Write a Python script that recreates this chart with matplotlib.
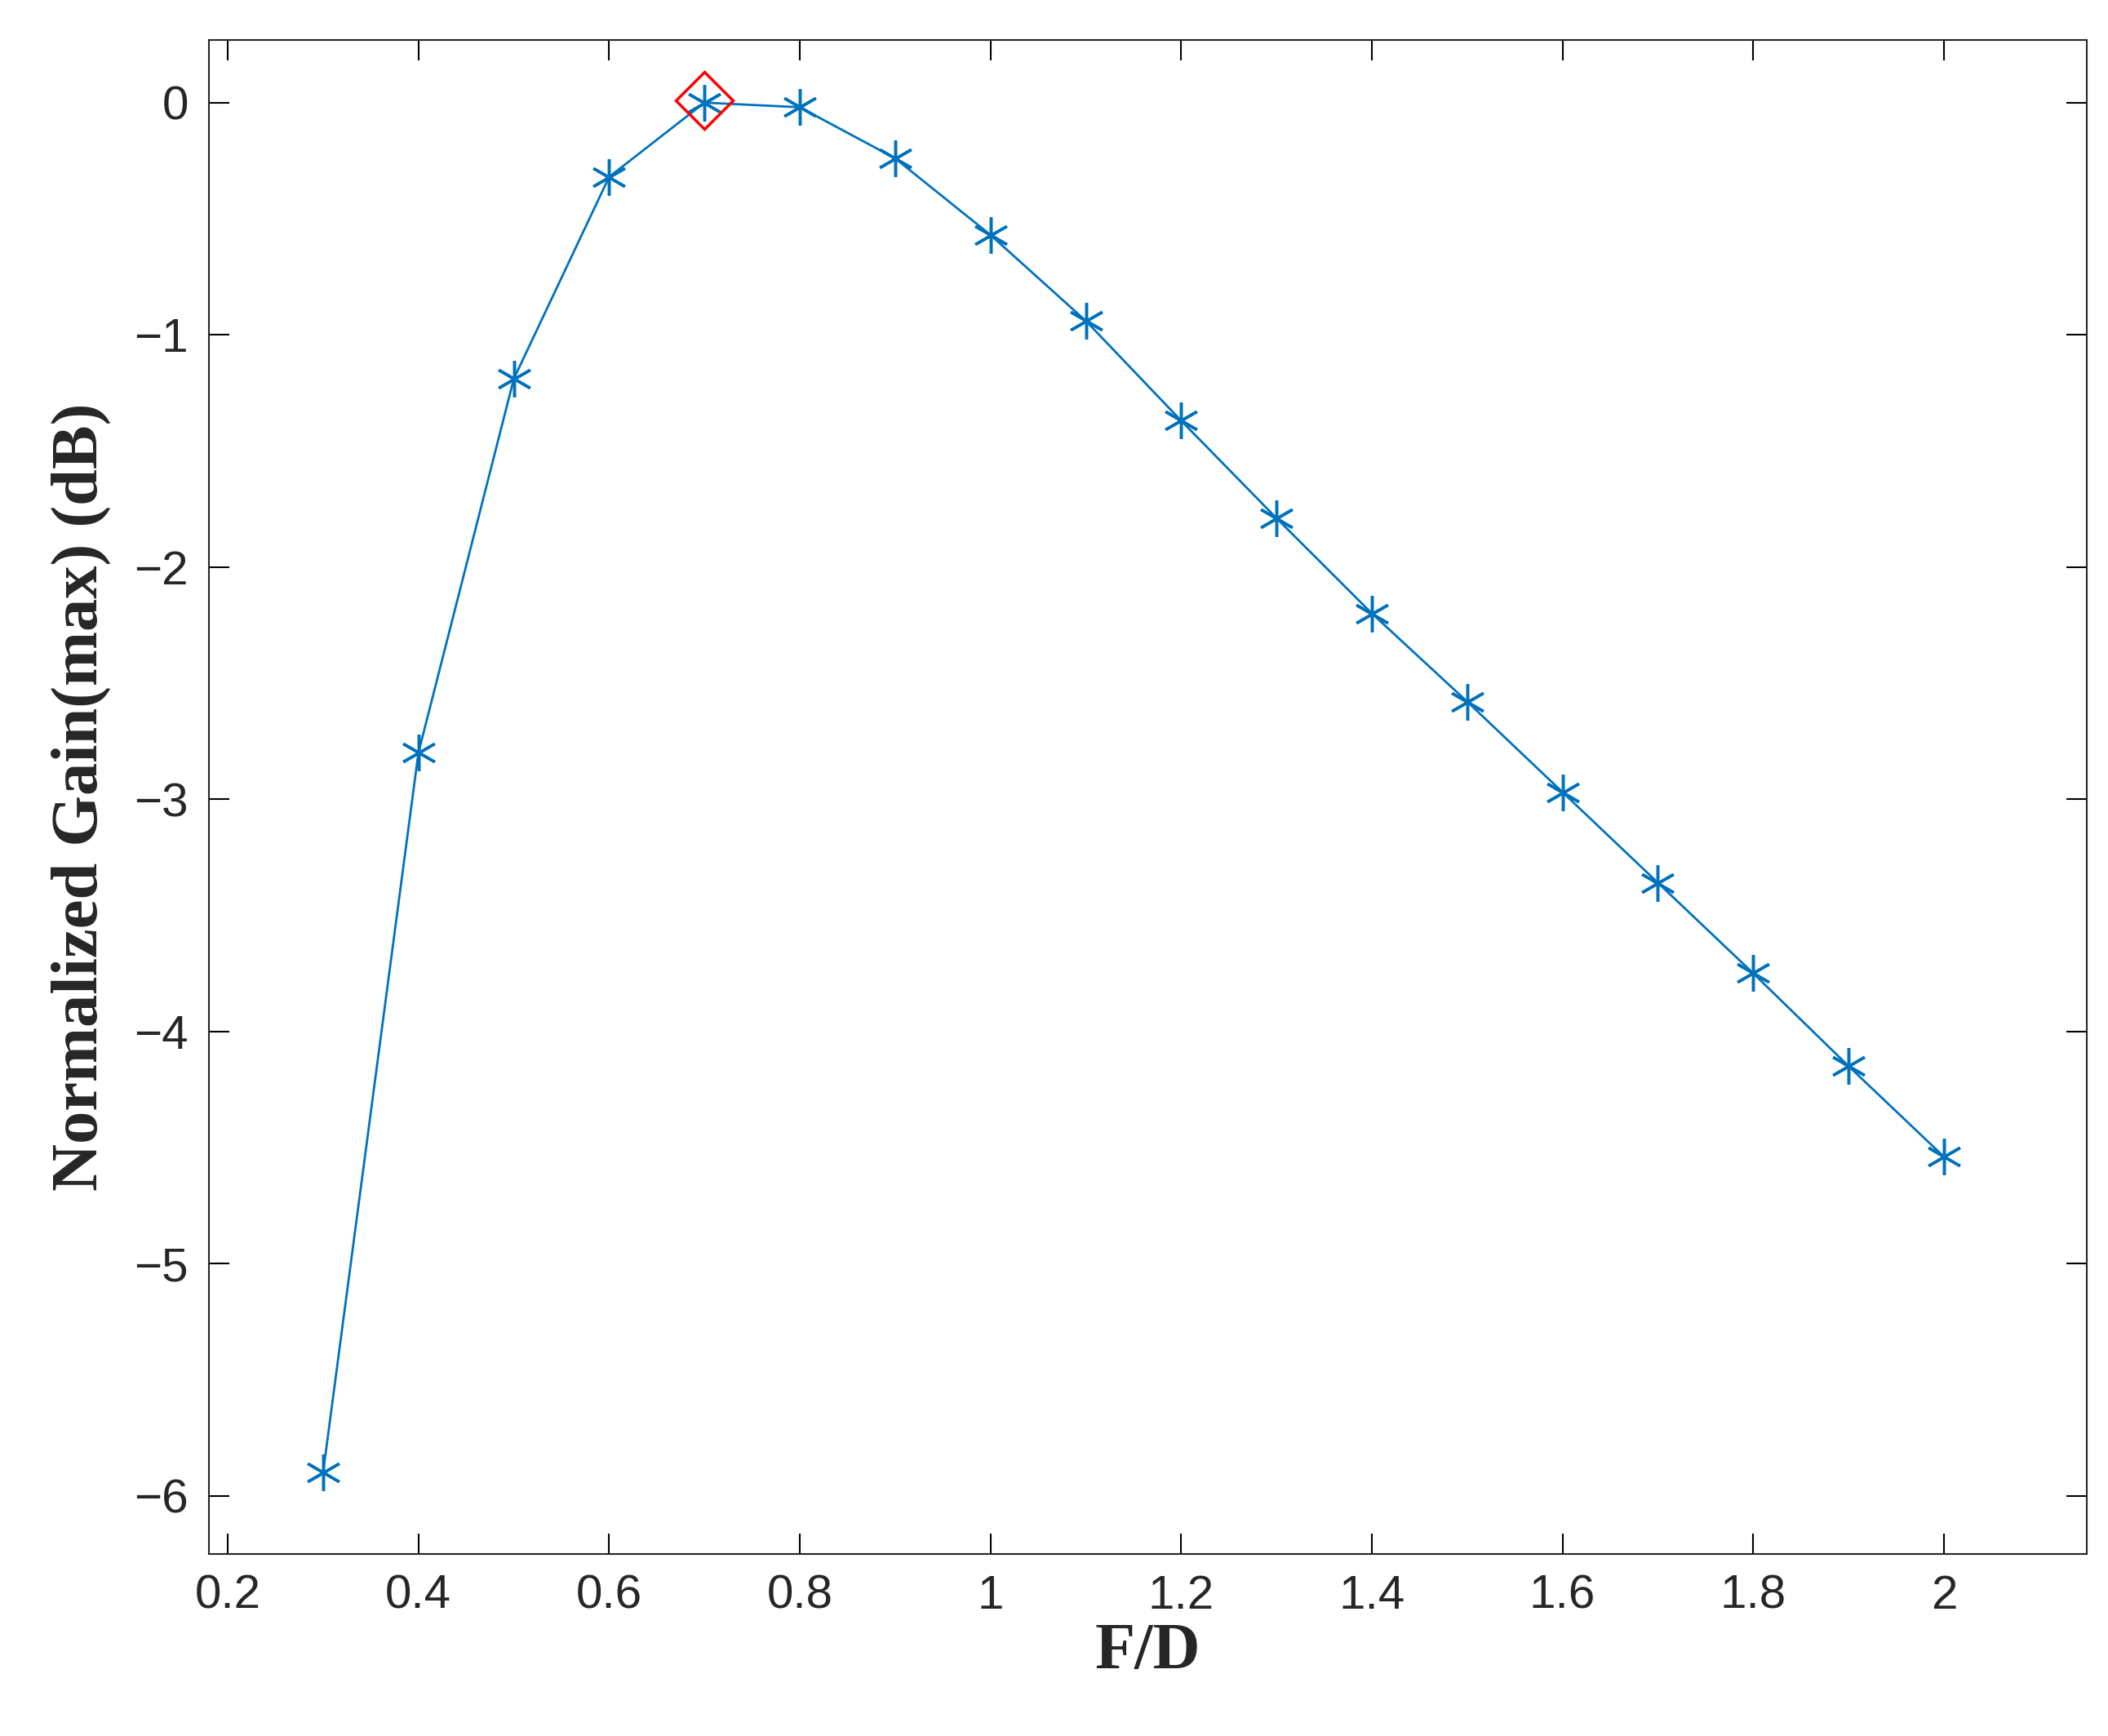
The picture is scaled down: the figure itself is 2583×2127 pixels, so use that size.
import numpy as np
import matplotlib.pyplot as plt

fd = [0.3, 0.4, 0.5, 0.6, 0.7, 0.8, 0.9, 1.0, 1.1, 1.2, 1.3, 1.4, 1.5, 1.6, 1.7, 1.8, 1.9, 2.0]
gain = [-5.9, -2.8, -1.19, -0.32, 0.0, -0.02, -0.24, -0.57, -0.94, -1.37, -1.79, -2.2,
        -2.58, -2.97, -3.36, -3.75, -4.15, -4.54]
peak_x = [0.7]
peak_y = [0.01]

fig = plt.figure(figsize=(25.83, 21.27), dpi=100)
ax = fig.add_axes([0.099, 0.105, 0.891, 0.872])
ax.plot(fd, gain, color='#0072BD', lw=2, marker=(6, 2, 0), ms=32, mew=2.5)
ax.plot(peak_x, peak_y, 'D', color='red', mfc='none', ms=36, mew=2.5)

ax.set_xlim(0.18, 2.15)
ax.set_ylim(-6.25, 0.27)
ax.set_xticks(np.arange(0.2, 2.01, 0.2))
ax.set_xticklabels(['0.2', '0.4', '0.6', '0.8', '1', '1.2', '1.4', '1.6', '1.8', '2'])
ax.set_yticks(range(-6, 1))
ax.tick_params(direction='in', top=True, right=True, length=18, width=1.5,
               labelsize=42, pad=18)
for lab in ax.get_xticklabels() + ax.get_yticklabels():
    lab.set_family('Liberation Sans')
    lab.set_color('#262626')
for s in ax.spines.values():
    s.set_linewidth(1.5)
    s.set_color('#262626')

ax.set_xlabel('F/D', family='Liberation Serif', weight='bold', fontsize=58, color='#262626')
ax.set_ylabel('Normalized Gain(max) (dB)', family='Liberation Serif', weight='bold',
              fontsize=58, color='#262626', labelpad=20)
fig.savefig('out.png')
